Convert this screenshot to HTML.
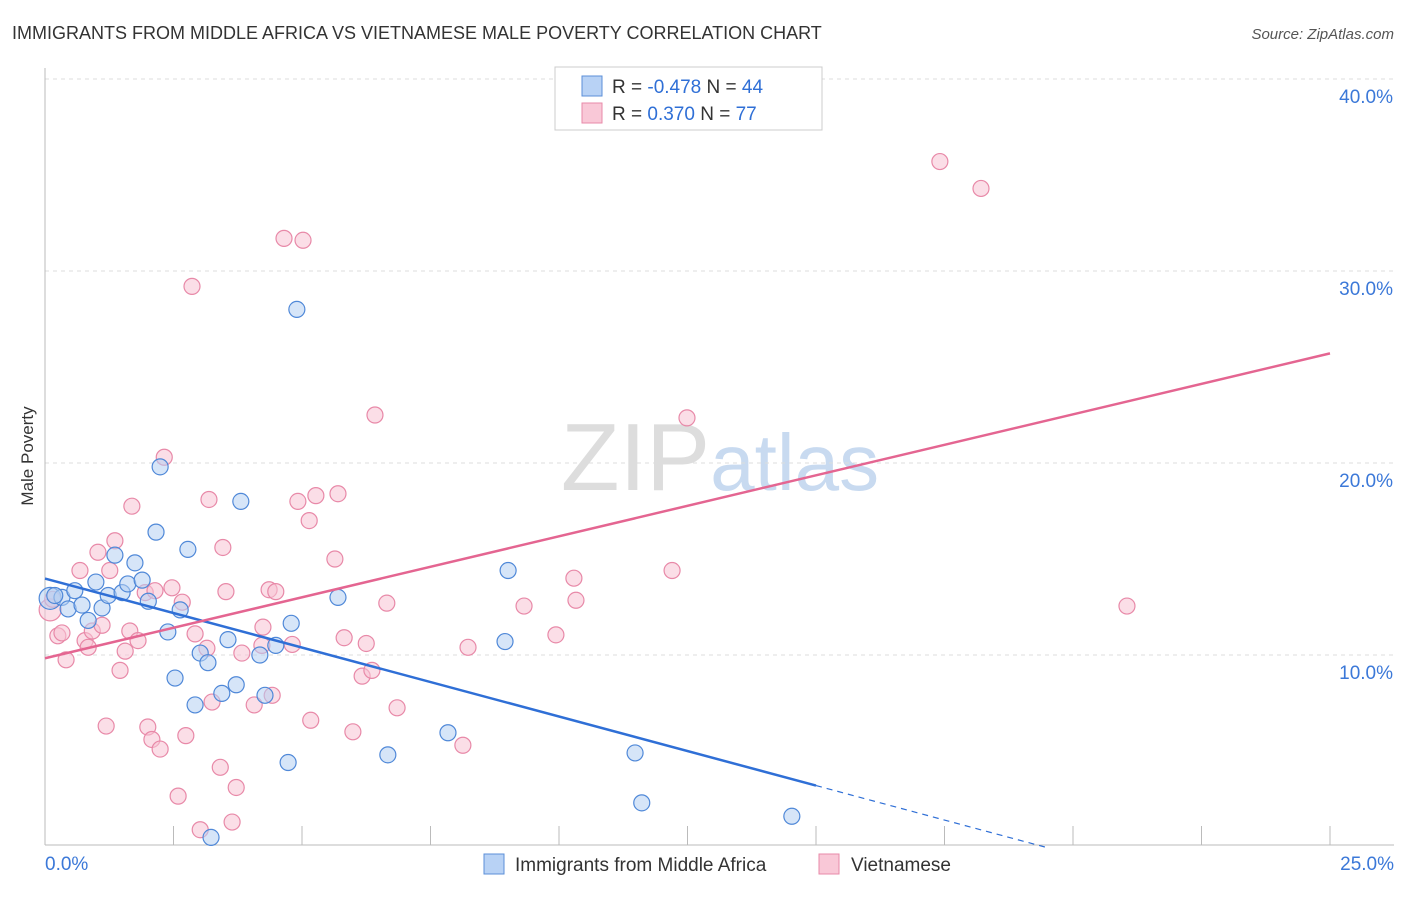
<!DOCTYPE html>
<html><head><meta charset="utf-8"><style>
body{margin:0;background:#fff;font-family:"Liberation Sans",sans-serif}
svg text{font-family:"Liberation Sans",sans-serif}
</style></head><body>
<svg id="chart" width="1406" height="892" xmlns="http://www.w3.org/2000/svg">
<text x="12" y="39" font-size="18" fill="#333">IMMIGRANTS FROM MIDDLE AFRICA VS VIETNAMESE MALE POVERTY CORRELATION CHART</text>
<text x="1394" y="39" font-size="15" fill="#555" text-anchor="end" font-style="italic">Source: ZipAtlas.com</text>
<text x="720" y="490" font-size="96" text-anchor="middle" fill="#ddd" font-family="Liberation Serif">ZIP<tspan fill="#c8daf0" font-family="Liberation Sans" font-size="80">atlas</tspan></text>
<g id="grid"></g>
<g id="axes"></g>
<text transform="translate(33,456) rotate(-90)" font-size="17" fill="#333" text-anchor="middle">Male Poverty</text>
<g id="pts"></g>
<g id="lines"></g>
<g>
<rect x="555" y="67" width="267" height="63" fill="#fff" stroke="#ccc"/>
<rect x="582" y="76" width="20" height="20" fill="#b8d2f5" stroke="#5b8fd8"/>
<rect x="582" y="103" width="20" height="20" fill="#f9c8d7" stroke="#e88aa8"/>
<text x="612" y="93" font-size="19" fill="#333">R = <tspan fill="#2f6fd6">-0.478</tspan>   N = <tspan fill="#2f6fd6">44</tspan></text>
<text x="612" y="120" font-size="19" fill="#333">R =  <tspan fill="#2f6fd6">0.370</tspan>   N = <tspan fill="#2f6fd6">77</tspan></text>
</g>
<g>
<rect x="484" y="854" width="20" height="20" fill="#b8d2f5" stroke="#5b8fd8"/>
<text x="515" y="871" font-size="19" fill="#333">Immigrants from Middle Africa</text>
<rect x="819" y="854" width="20" height="20" fill="#f9c8d7" stroke="#e88aa8"/>
<text x="851" y="871" font-size="19" fill="#333">Vietnamese</text>
</g>
</svg>
<script>
const yTicks=[10,20,30,40];
const yTickLabels=["10.0%","20.0%","30.0%","40.0%"];
const xTicks=[0,2.5,5,7.5,10,12.5,15,17.5,20,22.5,25];
const blueX=[0.10,0.33,0.58,0.45,0.72,0.84,0.99,1.11,1.23,1.36,1.50,1.61,1.75,1.89,2.01,2.16,2.24,2.39,2.53,2.63,2.78,2.92,3.02,3.17,3.44,3.56,3.72,3.81,4.18,4.28,4.49,4.73,4.79,4.90,5.70,6.67,7.84,8.95,9.01,11.48,11.61,14.53,3.23,0.19];
const blueY=[12.95,13.0,13.35,12.4,12.6,11.8,13.8,12.45,13.1,15.2,13.25,13.7,14.8,13.9,12.8,16.4,19.8,11.2,8.8,12.35,15.5,7.4,10.1,9.6,8.0,10.8,8.45,18.0,10.0,7.9,10.5,4.4,11.65,28.0,13.0,4.8,5.95,10.7,14.4,4.9,2.3,1.6,0.5,13.1];
const pinkX=[0.10,0.25,0.33,0.41,0.68,0.78,0.84,0.92,1.03,1.11,1.19,1.26,1.36,1.46,1.56,1.65,1.69,1.81,1.95,2.00,2.08,2.14,2.24,2.32,2.47,2.59,2.67,2.74,2.86,2.92,3.02,3.15,3.19,3.25,3.41,3.46,3.52,3.64,3.72,3.83,4.07,4.24,4.22,4.36,4.42,4.49,4.65,4.81,4.92,5.02,5.14,5.17,5.27,5.64,5.70,5.82,5.99,6.17,6.25,6.36,6.42,6.65,6.85,8.13,8.23,9.32,9.94,10.29,10.33,12.20,12.49,17.41,18.21,21.05,0.15];
const pinkY=[12.35,11.0,11.15,9.75,14.4,10.75,10.4,11.25,15.35,11.55,6.3,14.4,15.95,9.2,10.2,11.25,17.75,10.75,13.25,6.25,5.6,13.35,5.1,20.3,13.5,2.65,12.75,5.8,29.2,11.1,0.9,10.35,18.1,7.55,4.15,15.6,13.3,1.3,3.1,10.1,7.4,11.45,10.5,13.4,7.9,13.3,31.7,10.55,18.0,31.6,17.0,6.6,18.3,15.0,18.4,10.9,6.0,8.9,10.6,9.2,22.5,12.7,7.25,5.3,10.4,12.55,11.05,14.0,12.85,14.4,22.35,35.7,34.3,12.55,12.9];
const NS="http://www.w3.org/2000/svg";
const X0=45,X1=1330,Y0=847,PY=19.2;
const sx=v=>X0+(v/25)*(X1-X0);
const sy=v=>Y0-v*PY;
function mk(t,a,p){const e=document.createElementNS(NS,t);for(const k in a)e.setAttribute(k,a[k]);p.appendChild(e);return e;}
const grid=document.getElementById('grid'),axes=document.getElementById('axes'),pts=document.getElementById('pts'),lines=document.getElementById('lines');
yTicks.forEach((t,i)=>{
 const l=mk('line',{x1:X0,x2:1394,y1:sy(t),y2:sy(t),stroke:'#ddd','stroke-dasharray':'4,4'},grid);
 
 
 const tx=mk('text',{x:1393,y:sy(t)+24,'font-size':19,fill:'#3b78d8','text-anchor':'end'},axes);
 tx.textContent=yTickLabels[i];
 
 
});
const ya=mk('line',{x1:X0,x2:X0,y1:68,y2:845,stroke:'#bbb'},axes);


const xa=mk('line',{x1:X0,x2:1394,y1:845,y2:845,stroke:'#bbb'},axes);


xTicks.forEach(t=>{
 const l=mk('line',{x1:sx(t),x2:sx(t),y1:826,y2:845,stroke:'#bbb'},axes);
 
 
});
[[0,'0.0%','start',X0],[25,'25.0%','end',1394]].forEach(([v,s,a,x])=>{
 const tx=mk('text',{x:x,y:870,'font-size':19,fill:'#3b78d8','text-anchor':a},axes);
 tx.textContent=s;
 
 
});
function dots(xs,ys,fill,stroke,name){
 xs.forEach((x,i)=>{
  const c=mk('circle',{cx:sx(x),cy:sy(ys[i]),r:(i===0?11:8),fill:fill,'fill-opacity':0.55,stroke:stroke,'stroke-width':1.2},pts);
  
  
 });
}
dots(pinkX,pinkY,'#f7c3d3','#e889a8','vietnamese-point');
dots(blueX,blueY,'#b5d0f3','#4f88d8','middle-africa-point');
function fit(xs,ys){const n=xs.length;let mx=0,my=0;xs.forEach((x,i)=>{mx+=x;my+=ys[i]});mx/=n;my/=n;let sxx=0,sxy=0;xs.forEach((x,i)=>{sxx+=(x-mx)**2;sxy+=(x-mx)*(ys[i]-my)});const b=sxy/sxx;return [my-b*mx,b];}
const [ba,bb]=fit(blueX,blueY),[pa,pb]=fit(pinkX,pinkY);
const bEnd=15;const bZero=-ba/bb;
let l=mk('line',{x1:sx(0),y1:sy(ba),x2:sx(bEnd),y2:sy(ba+bb*bEnd),stroke:'#2f6fd6','stroke-width':2.5},lines);


l=mk('line',{x1:sx(bEnd),y1:sy(ba+bb*bEnd),x2:sx(bZero),y2:sy(0),stroke:'#2f6fd6','stroke-width':1.2,'stroke-dasharray':'6,5'},lines);


l=mk('line',{x1:sx(0),y1:sy(pa),x2:sx(25),y2:sy(pa+pb*25),stroke:'#e46591','stroke-width':2.5},lines);


</script>
</body></html>
